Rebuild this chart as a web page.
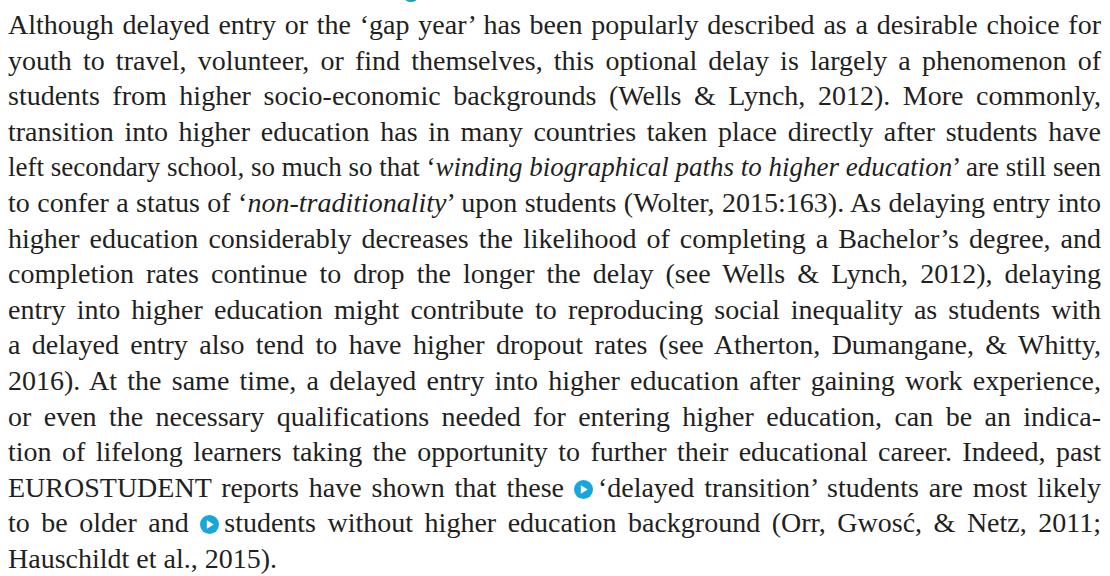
<!DOCTYPE html>
<html>
<head>
<meta charset="utf-8">
<script src="https://cdn.jsdelivr.net/npm/chart.js@4"></script>
<style>
  html, body { margin: 0; padding: 0; background: #fff; }
  body { width: 1110px; height: 576px; overflow: hidden; position: relative; }
  #page {
    position: absolute; left: 8px; top: 7px; width: 1093px;
    font-family: "Liberation Serif", "DejaVu Serif", serif;
    font-size: 28px; line-height: 35.6px; color: #231f20;
  }
  .line { white-space: nowrap; height: 35.6px; }
  .line > span { display: inline-block; transform-origin: 0 50%; }
  .ico { display: inline-block; width: 19px; height: 19px; vertical-align: -2px; margin-right: 5px; }
  #headTail {
    position: absolute; left: 404px; top: -9px; width: 14px; height: 11px;
    border-radius: 50%; background: #1d9fc9;
  }
</style>
</head>
<body>
<div id="headTail"></div>
<div id="page"></div>
<script>
// one entry per printed line; last flag marks the paragraph end (not justified)
const ICON = '<svg class="ico" viewBox="0 0 20 20"><circle cx="10" cy="10" r="10" fill="#18a6dc"/><path d="M7.2 5.6 L14.6 10 L7.2 14.4 Z" fill="#fff"/></svg>';
const lines = [
  "Although delayed entry or the ‘gap year’ has been popularly described as a desirable choice for",
  "youth to travel, volunteer, or find themselves, this optional delay is largely a phenomenon of",
  "students from higher socio-economic backgrounds (Wells &amp; Lynch, 2012). More commonly,",
  "transition into higher education has in many countries taken place directly after students have",
  "left secondary school, so much so that ‘<i>winding biographical paths to higher education</i>’ are still seen",
  "to confer a status of ‘<i>non-traditionality</i>’ upon students (Wolter, 2015:163). As delaying entry into",
  "higher education considerably decreases the likelihood of completing a Bachelor’s degree, and",
  "completion rates continue to drop the longer the delay (see Wells &amp; Lynch, 2012), delaying",
  "entry into higher education might contribute to reproducing social inequality as students with",
  "a delayed entry also tend to have higher dropout rates (see Atherton, Dumangane, &amp; Whitty,",
  "2016). At the same time, a delayed entry into higher education after gaining work experience,",
  "or even the necessary qualifications needed for entering higher education, can be an indica-",
  "tion of lifelong learners taking the opportunity to further their educational career. Indeed, past",
  "EUROSTUDENT reports have shown that these " + ICON + "‘delayed transition’ students are most likely",
  "to be older and " + ICON + "students without higher education background (Orr, Gwosć, &amp; Netz, 2011;",
  "Hauschildt et al., 2015)."
];
const lastLine = lines.length - 1;

const page = document.getElementById("page");
lines.forEach((html) => {
  const div = document.createElement("div");
  div.className = "line";
  div.innerHTML = "<span>" + html + "</span>";
  page.appendChild(div);
});

function fitLines() {
  const W = 1093;
  const spans = page.querySelectorAll(".line > span");
  spans.forEach((sp, i) => {
    const w = sp.getBoundingClientRect().width;
    if (i === lastLine) return;
    if (w > W) {
      sp.style.transform = "scaleX(" + (W / w) + ")";
    } else {
      const gaps = (sp.textContent.match(/ /g) || []).length;
      if (gaps) sp.style.wordSpacing = ((W - w) / gaps) + "px";
    }
  });
}
document.fonts.ready.then(fitLines);
</script>
</body>
</html>
